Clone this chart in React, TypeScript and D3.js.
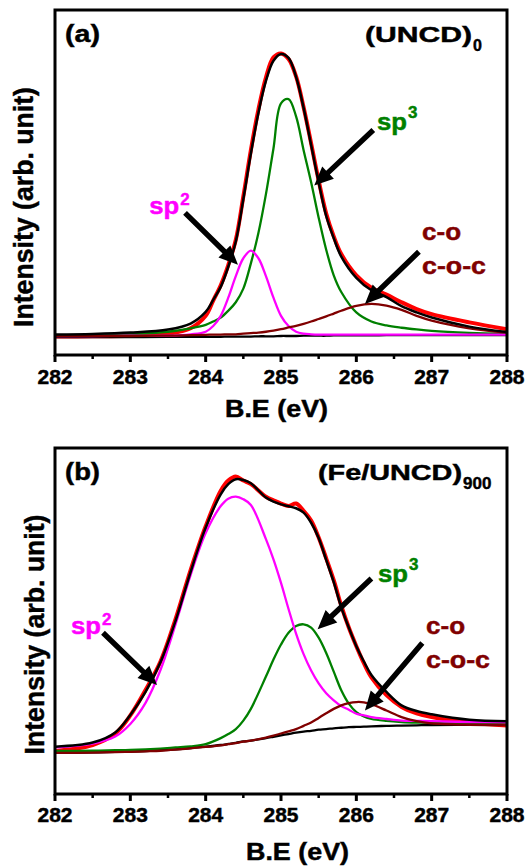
import React from "react";
import * as d3 from "d3";

// ---------- data (binding energy in eV, intensity in arb. units) ----------
const energiesA = [282, 282.5, 283, 283.5, 283.8, 284, 284.1, 284.2, 284.3, 284.4, 284.5, 284.6, 284.7, 284.8, 284.9, 285, 285.1, 285.2, 285.3, 285.4, 285.5, 285.6, 285.7, 285.8, 286, 286.2, 286.4, 286.6, 286.8, 287, 287.5, 288];
const rawA = [-0.002, -0.001, 0.001, 0.008, 0.027, 0.071, 0.125, 0.179, 0.25, 0.339, 0.492, 0.655, 0.798, 0.911, 0.982, 0.996, 0.976, 0.915, 0.806, 0.679, 0.548, 0.432, 0.351, 0.289, 0.214, 0.17, 0.146, 0.119, 0.095, 0.077, 0.048, 0.024];
const envelopeA = [0.005, 0.007, 0.012, 0.023, 0.044, 0.085, 0.127, 0.173, 0.244, 0.333, 0.482, 0.643, 0.786, 0.899, 0.97, 0.994, 0.98, 0.913, 0.804, 0.673, 0.542, 0.423, 0.345, 0.28, 0.205, 0.161, 0.137, 0.105, 0.083, 0.065, 0.033, 0.014];
const sp3A = [0.002, 0.004, 0.007, 0.015, 0.027, 0.039, 0.051, 0.065, 0.089, 0.119, 0.167, 0.256, 0.363, 0.5, 0.661, 0.82, 0.835, 0.774, 0.655, 0.542, 0.417, 0.304, 0.214, 0.155, 0.083, 0.051, 0.037, 0.029, 0.023, 0.018, 0.011, 0.007];
const sp2A = [0, 0, 0.001, 0.001, 0.006, 0.015, 0.035, 0.071, 0.135, 0.211, 0.274, 0.301, 0.274, 0.211, 0.135, 0.071, 0.035, 0.015, 0.008, 0.006, 0.005, 0.005, 0.005, 0.005, 0.005, 0.005, 0.005, 0.005, 0.005, 0.005, 0.005, 0.005];
const coA = [0, 0, 0, 0.001, 0.003, 0.004, 0.005, 0.005, 0.006, 0.006, 0.008, 0.01, 0.012, 0.015, 0.019, 0.024, 0.03, 0.036, 0.043, 0.051, 0.06, 0.069, 0.079, 0.089, 0.106, 0.113, 0.107, 0.092, 0.071, 0.054, 0.027, 0.012];
const bgA = [-0.004, -0.004, -0.004, -0.003, -0.003, -0.003, -0.003, -0.003, -0.002, -0.002, -0.002, -0.002, -0.001, -0.001, -0.001, 0, 0, 0, 0.001, 0.001, 0.001, 0.001, 0.002, 0.002, 0.002, 0.002, 0.003, 0.003, 0.003, 0.003, 0.003, 0.003];

const energiesB = [282, 282.5, 282.8, 283, 283.2, 283.4, 283.6, 283.8, 284, 284.2, 284.3, 284.4, 284.5, 284.6, 284.8, 284.9, 285, 285.1, 285.2, 285.3, 285.4, 285.5, 285.6, 285.7, 285.8, 285.9, 286, 286.1, 286.2, 286.4, 286.6, 286.8, 287, 287.5, 288];
const rawB = [0.006, 0.028, 0.07, 0.136, 0.228, 0.333, 0.488, 0.667, 0.827, 0.957, 0.994, 1.009, 0.994, 0.981, 0.935, 0.922, 0.91, 0.901, 0.91, 0.883, 0.848, 0.786, 0.71, 0.63, 0.537, 0.457, 0.389, 0.327, 0.275, 0.21, 0.167, 0.144, 0.13, 0.11, 0.099];
const envelopeB = [0.022, 0.037, 0.074, 0.138, 0.221, 0.33, 0.481, 0.66, 0.822, 0.944, 0.981, 0.999, 0.996, 0.984, 0.932, 0.917, 0.907, 0.9, 0.893, 0.877, 0.84, 0.784, 0.704, 0.623, 0.531, 0.457, 0.389, 0.333, 0.284, 0.222, 0.173, 0.152, 0.14, 0.12, 0.115];
const sp2B = [0.019, 0.033, 0.059, 0.105, 0.181, 0.302, 0.469, 0.649, 0.802, 0.901, 0.928, 0.935, 0.926, 0.905, 0.78, 0.706, 0.62, 0.525, 0.435, 0.36, 0.3, 0.253, 0.217, 0.191, 0.17, 0.157, 0.142, 0.136, 0.13, 0.123, 0.117, 0.116, 0.115, 0.112, 0.111];
const sp3B = [0.006, 0.007, 0.009, 0.01, 0.012, 0.015, 0.019, 0.023, 0.031, 0.053, 0.068, 0.086, 0.117, 0.16, 0.278, 0.34, 0.395, 0.438, 0.463, 0.469, 0.457, 0.42, 0.364, 0.296, 0.228, 0.179, 0.148, 0.132, 0.123, 0.116, 0.112, 0.11, 0.109, 0.107, 0.107];
const coB = [-0.001, 0, 0.002, 0.003, 0.005, 0.007, 0.011, 0.016, 0.021, 0.027, 0.031, 0.035, 0.04, 0.044, 0.055, 0.062, 0.07, 0.078, 0.086, 0.098, 0.11, 0.127, 0.144, 0.16, 0.173, 0.181, 0.185, 0.184, 0.177, 0.154, 0.13, 0.115, 0.107, 0.102, 0.101];
const bgB = [0, 0.001, 0.003, 0.004, 0.006, 0.009, 0.012, 0.017, 0.022, 0.028, 0.032, 0.036, 0.041, 0.044, 0.053, 0.058, 0.063, 0.068, 0.073, 0.077, 0.08, 0.084, 0.086, 0.089, 0.091, 0.093, 0.094, 0.095, 0.096, 0.098, 0.099, 0.1, 0.101, 0.102, 0.104];

const majorTicks = [282, 283, 284, 285, 286, 287, 288];
const minorTicks = [282.5, 283.5, 284.5, 285.5, 286.5, 287.5];
const xTitle = "B.E (eV)";
const yTitle = "Intensity (arb. unit)";

// ---------- styles / layout ----------
const FONT = "'Liberation Sans', Arial, Helvetica, sans-serif";
const C = { raw: "#ff0000", env: "#000000", sp2: "#ff00ff", sp3: "#008000", co: "#800000", bg: "#000000" };
const LEFT = 55, RIGHT = 507;

type Ann = { text: string; sup?: string; supDy?: number; e: number; v: number; color: string; len: number };
type Arrow = { e1: number; v1: number; e2: number; v2: number };

const panels = [
  {
    key: "a", top: 10, bottom: 355, yDomain: [-0.067, 1.149],
    energies: energiesA, raw: rawA, env: envelopeA, sp2: sp2A, sp3: sp3A, co: coA, bg: bgA,
    tag: "(a)", sample: "(UNCD)", sub: "0", sampleX: 365, sampleLen: 107, subSize: 16,
    xTitleX: 276.5, xTitleDy: 62, tickDy: 28.5, yTitleX: 33, yTitleDy: 24.5,
    anns: [
      { text: "sp", sup: "2", supDy: -9, e: 283.25, v: 0.429, color: C.sp2, len: 30 },
      { text: "sp", sup: "3", supDy: -12, e: 286.274, v: 0.7265, color: C.sp3, len: 30 },
      { text: "c-o", e: 286.872, v: 0.3388, color: C.co, len: 39 },
      { text: "c-o-c", e: 286.872, v: 0.2189, color: C.co, len: 64 },
    ] as Ann[],
    arrows: [
      { e1: 283.726, v1: 0.434, e2: 284.429, v2: 0.251 },
      { e1: 286.225, v1: 0.726, e2: 285.441, v2: 0.53 },
      { e1: 286.831, v1: 0.297, e2: 286.114, v2: 0.113 },
    ] as Arrow[],
  },
  {
    key: "b", top: 448, bottom: 794, yDomain: [-0.151, 1.113],
    energies: energiesB, raw: rawB, env: envelopeB, sp2: sp2B, sp3: sp3B, co: coB, bg: bgB,
    tag: "(b)", sample: "(Fe/UNCD)", sub: "900", sampleX: 318, sampleLen: 144, subSize: 17,
    xTitleX: 297.5, xTitleDy: 65.5, tickDy: 27.7, yTitleX: 44, yTitleDy: 13.5,
    anns: [
      { text: "sp", sup: "2", supDy: -9, e: 282.212, v: 0.4335, color: C.sp2, len: 30 },
      { text: "sp", sup: "3", supDy: -12, e: 286.288, v: 0.6235, color: C.sp3, len: 30 },
      { text: "c-o", e: 286.925, v: 0.4335, color: C.co, len: 39 },
      { text: "c-o-c", e: 286.925, v: 0.3092, color: C.co, len: 64 },
    ] as Ann[],
    arrows: [
      { e1: 282.637, v1: 0.438, e2: 283.355, v2: 0.247 },
      { e1: 286.2, v1: 0.636, e2: 285.486, v2: 0.451 },
      { e1: 286.876, v1: 0.401, e2: 286.114, v2: 0.154 },
    ] as Arrow[],
  },
];

function arrowPath(x1: number, y1: number, x2: number, y2: number) {
  const dx = x2 - x1, dy = y2 - y1;
  const L = Math.hypot(dx, dy);
  const ux = dx / L, uy = dy / L, nx = -uy, ny = ux;
  const hl = 19, hw = 8.5, sw = 2.7;
  const bx = x2 - ux * hl, by = y2 - uy * hl;
  const p = [
    [x1 + nx * sw, y1 + ny * sw],
    [bx + nx * sw, by + ny * sw],
    [bx + nx * hw, by + ny * hw],
    [x2, y2],
    [bx - nx * hw, by - ny * hw],
    [bx - nx * sw, by - ny * sw],
    [x1 - nx * sw, y1 - ny * sw],
  ];
  return "M" + p.map((q) => q[0].toFixed(2) + "," + q[1].toFixed(2)).join("L") + "Z";
}

const heavy = { stroke: "currentColor", strokeWidth: 0.45 };

function Panel({ p }: { p: (typeof panels)[number] }) {
  const x = d3.scaleLinear().domain([282, 288]).range([LEFT, RIGHT]);
  const y = d3.scaleLinear().domain(p.yDomain).range([p.bottom, p.top]);
  const line = (vals: number[]) =>
    d3.line<number>()
      .x((_, i) => x(p.energies[i]))
      .y((d) => y(d))
      .curve(d3.curveCatmullRom.alpha(0.5))(vals) || "";
  const clipId = "clip-" + p.key;
  const midY = (p.top + p.bottom) / 2;
  return (
    <g>
      <defs>
        <clipPath id={clipId}>
          <rect x={LEFT} y={p.top} width={RIGHT - LEFT} height={p.bottom - p.top} />
        </clipPath>
      </defs>
      <g clipPath={`url(#${clipId})`} fill="none" strokeLinejoin="round" strokeLinecap="round">
        <path d={line(p.raw)} stroke={C.raw} strokeWidth={4} />
        <path d={line(p.bg)} stroke={C.bg} strokeWidth={2.3} />
        <path d={line(p.sp3)} stroke={C.sp3} strokeWidth={2.3} />
        <path d={line(p.sp2)} stroke={C.sp2} strokeWidth={2.3} />
        <path d={line(p.co)} stroke={C.co} strokeWidth={2.3} />
        <path d={line(p.env)} stroke={C.env} strokeWidth={2.5} />
      </g>
      {/* frame */}
      <rect x={LEFT} y={p.top} width={RIGHT - LEFT} height={p.bottom - p.top} fill="none" stroke="#000" strokeWidth={3} />
      {majorTicks.map((t) => (
        <line key={"M" + t} x1={x(t)} x2={x(t)} y1={p.bottom} y2={p.bottom + 7} stroke="#000" strokeWidth={3} />
      ))}
      {minorTicks.map((t) => (
        <line key={"m" + t} x1={x(t)} x2={x(t)} y1={p.bottom} y2={p.bottom + 4} stroke="#000" strokeWidth={2.5} />
      ))}
      <g color="#000" fill="#000" fontWeight="bold" fontFamily={FONT}>
        {majorTicks.map((t) => (
          <text key={"L" + t} x={x(t)} y={p.bottom + p.tickDy} fontSize={19.5} {...heavy}
            textAnchor="middle" textLength={35} lengthAdjust="spacingAndGlyphs">{t}</text>
        ))}
        <text x={p.xTitleX} y={p.bottom + p.xTitleDy} fontSize={23} {...heavy}
          textAnchor="middle" textLength={103} lengthAdjust="spacingAndGlyphs">{xTitle}</text>
        <text transform={`translate(${p.yTitleX},${midY + p.yTitleDy}) rotate(-90)`} fontSize={27} {...heavy}
          textAnchor="middle" textLength={240} lengthAdjust="spacingAndGlyphs">{yTitle}</text>
        {/* panel tag and sample name */}
        <text x={65} y={p.top + 32} fontSize={23} textLength={35} {...heavy}
          lengthAdjust="spacingAndGlyphs">{p.tag}</text>
        <text x={p.sampleX} y={p.top + 32} fontSize={21.5} {...heavy}
          textLength={p.sampleLen} lengthAdjust="spacingAndGlyphs">{p.sample}</text>
        <text x={p.sampleX + p.sampleLen + 1} y={p.top + 41} fontSize={p.subSize} {...heavy}>{p.sub}</text>
      </g>
      {/* arrows */}
      {p.arrows.map((a, i) => (
        <path key={"A" + i} d={arrowPath(x(a.e1), y(a.v1), x(a.e2), y(a.v2))} fill="#000" />
      ))}
      {/* annotations */}
      {p.anns.map((a, i) => (
        <g key={"T" + i} fill={a.color} color={a.color} fontWeight="bold" fontFamily={FONT}>
          <text x={x(a.e)} y={y(a.v)} fontSize={23} textLength={a.len} lengthAdjust="spacingAndGlyphs" {...heavy}>{a.text}</text>
          {a.sup && (
            <text x={x(a.e) + a.len + 1} y={y(a.v) + (a.supDy || 0)} fontSize={17} {...heavy}>{a.sup}</text>
          )}
        </g>
      ))}
    </g>
  );
}

export default function App() {
  return (
    <svg width={527} height={867} viewBox="0 0 527 867"
      style={{ position: "absolute", left: 0, top: 0, display: "block", background: "#fff" }}>
      <rect x={0} y={0} width={527} height={867} fill="#fff" />
      {panels.map((p) => (
        <Panel key={p.key} p={p} />
      ))}
    </svg>
  );
}
